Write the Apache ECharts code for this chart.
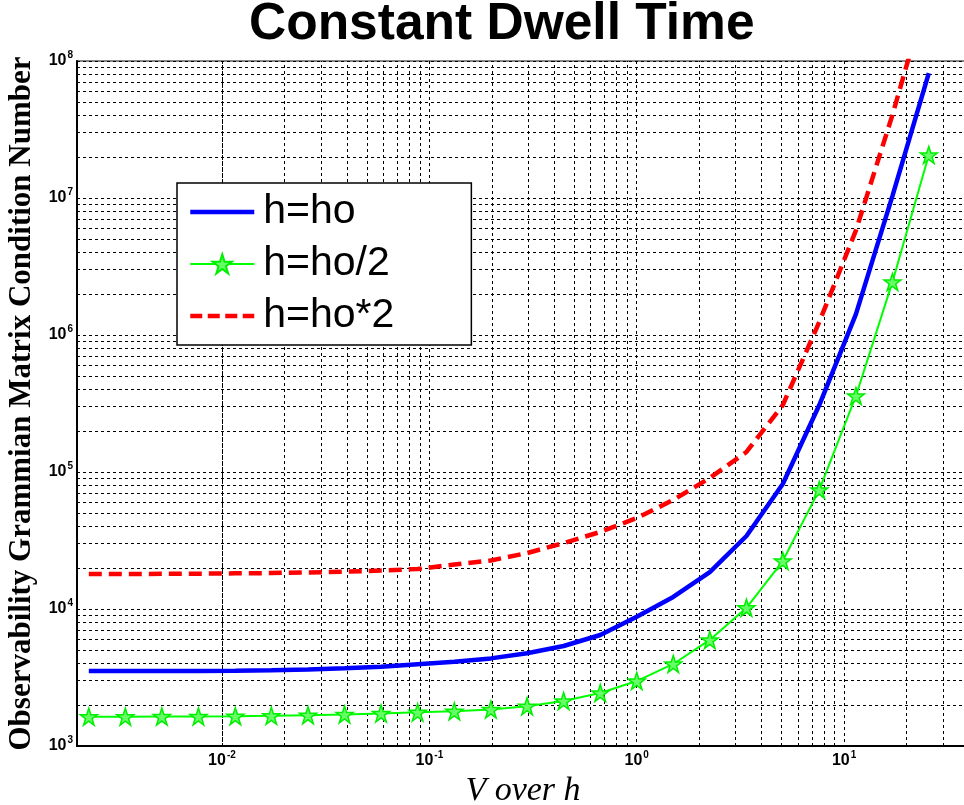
<!DOCTYPE html>
<html><head><meta charset="utf-8">
<script src="https://cdn.jsdelivr.net/npm/echarts@6/dist/echarts.min.js"></script>
<style>html,body{margin:0;padding:0;background:#fff}#c{width:964px;height:805px}</style>
</head><body><div id="c"></div>
<script>
// V over h sample positions
const xValues = [0.00228, 0.00342, 0.00513, 0.0077, 0.0116, 0.0173, 0.026, 0.039, 0.0585, 0.0878,
  0.132, 0.198, 0.296, 0.444, 0.667, 1.0, 1.5, 2.25, 3.38, 5.06, 7.59, 11.4, 17.1, 25.6];
// h = ho (blue solid)
const hHo = [3520, 3520, 3525, 3530, 3545, 3565, 3610, 3690, 3790, 3950,
  4120, 4360, 4750, 5370, 6460, 8790, 12250, 18600, 34100, 81700, 308000, 1420000, 10350000, 81700000];
// h = ho/2 (green with stars)
const hHoHalf = [1637, 1637, 1640, 1645, 1650, 1660, 1680, 1700, 1730, 1760,
  1790, 1850, 1950, 2130, 2440, 2980, 3970, 5950, 10200, 22400, 74000, 359000, 2440000, 20600000];
// h = ho*2 (red dashed)
const hHoDouble = [18000, 18000, 18050, 18100, 18200, 18300, 18500, 18700, 19100, 19600,
  21100, 22600, 25600, 30300, 36500, 46100, 62500, 90400, 140000, 308000, 1245000, 5800000, 40400000, 340000000];

const seriesNames = ['h=ho', 'h=ho/2', 'h=ho*2'];
const xDecades = [0.001, 0.01, 0.1, 1, 10];
const yDecades = [1000, 10000, 100000, 1000000, 10000000];
const minorMultipliers = [2, 3, 4, 5, 6, 7, 8, 9];

const X_MIN = 0.002, X_MAX = 40, Y_MIN = 1000, Y_MAX = 100000000;

const xMinor = [];
xDecades.forEach(d => minorMultipliers.forEach(m => { const v = +(d * m).toPrecision(3); if (v > X_MIN && v < X_MAX) xMinor.push(v); }));
const yMinor = [];
yDecades.forEach(d => minorMultipliers.forEach(m => { const v = d * m; if (v > Y_MIN && v < Y_MAX) yMinor.push(v); }));

function pts(ys) { return xValues.map((x, i) => [x, ys[i]]); }

function powLabel(v) {
  const e = Math.round(Math.log10(v));
  const p = Math.pow(10, e);
  if (Math.abs(v - p) > 1e-6 * p) return '';
  return '{b|10}{s|' + e + '}';
}
const labelRich = {
  b: { fontFamily: 'Liberation Sans, Arial', fontWeight: 'bold', fontSize: 16, color: '#000', lineHeight: 16, verticalAlign: 'bottom' },
  s: { fontFamily: 'Liberation Sans, Arial', fontWeight: 'bold', fontSize: 10, color: '#000', lineHeight: 10, padding: [0, 0, 9, 1], verticalAlign: 'bottom' }
};

const STAR = 'path://M50,2 L61.8,37.6 L99,37.6 L68.9,59.5 L80.4,95 L50,73 L19.6,95 L31.1,59.5 L1,37.6 L38.2,37.6 Z';
const gridLineStyle = { color: '#000', type: [3, 3], width: 1 };

const chart = echarts.init(document.getElementById('c'), null, { renderer: 'canvas' });
chart.setOption({
  animation: false,
  backgroundColor: '#fff',
  title: {
    text: 'Constant Dwell Time', left: 249, top: -1, padding: 0,
    textStyle: { fontFamily: 'Liberation Sans, Arial', fontWeight: 'bold', fontSize: 51.5, color: '#000' }
  },
  grid: {
    left: 77, top: 61, right: -5, bottom: 59, show: true, borderColor: '#888', borderWidth: 2,
    backgroundColor: '#fff', containLabel: false, outerBoundsMode: 'none'
  },
  legend: {
    orient: 'vertical', left: 177, top: 183,
    data: [
      { name: seriesNames[0], itemStyle: { opacity: 0 }, lineStyle: { width: 4.5 } },
      { name: seriesNames[1], lineStyle: { width: 2 } },
      { name: seriesNames[2], itemStyle: { opacity: 0 }, lineStyle: { width: 4.5, type: [12, 5.5] } }
    ],
    backgroundColor: '#fff', borderColor: '#000', borderWidth: 1.5,
    padding: [6, 77, 6, 11],
    itemWidth: 64, itemHeight: 24, itemGap: 6,
    selectedMode: false,
    textStyle: { fontFamily: 'Liberation Sans, Arial', fontSize: 41, color: '#000', lineHeight: 46, padding: [0, 0, 0, 4] }
  },
  xAxis: {
    type: 'log', logBase: 10, min: X_MIN, max: X_MAX,
    axisLine: { show: true, onZero: false, lineStyle: { color: '#000', width: 2 } },
    axisTick: { show: false },
    splitLine: { show: true, lineStyle: gridLineStyle },
    axisLabel: { formatter: powLabel, rich: labelRich, showMinLabel: false, showMaxLabel: false, margin: 7 },
    name: 'V over h', nameLocation: 'middle', nameGap: 23,
    nameTextStyle: { fontFamily: 'Liberation Serif, Times New Roman', fontStyle: 'italic', fontSize: 34, color: '#000' }
  },
  yAxis: {
    type: 'log', logBase: 10, min: Y_MIN, max: Y_MAX,
    axisLine: { show: true, onZero: false, lineStyle: { color: '#000', width: 2 } },
    axisTick: { show: false },
    splitLine: { show: true, lineStyle: gridLineStyle },
    axisLabel: { formatter: powLabel, rich: labelRich, margin: 4 },
    name: 'Observability Grammian Matrix Condition Number', nameLocation: 'middle', nameGap: 39,
    nameTextStyle: { fontFamily: 'Liberation Serif, Times New Roman', fontWeight: 'bold', fontSize: 31, color: '#000' }
  },
  series: [
    {
      name: 'grid', type: 'line', data: [], silent: true,
      markLine: {
        silent: true, symbol: 'none', z: 1, animation: false,
        label: { show: false }, lineStyle: gridLineStyle, emphasis: { disabled: true },
        data: xMinor.map(v => ({ xAxis: v })).concat(yMinor.map(v => ({ yAxis: v })))
      }
    },
    {
      name: seriesNames[0], type: 'line', data: pts(hHo), symbol: 'none', z: 3,
      lineStyle: { color: '#0000ff', width: 4.5 }, itemStyle: { color: '#0000ff' }
    },
    {
      name: seriesNames[1], type: 'line', data: pts(hHoHalf), symbol: STAR, symbolSize: 17, showAllSymbol: true, z: 3,
      lineStyle: { color: '#00ff00', width: 2 }, itemStyle: { color: '#66ff66', borderColor: '#00ee00', borderWidth: 1.5 }
    },
    {
      name: seriesNames[2], type: 'line', data: pts(hHoDouble), symbol: 'none', z: 3,
      lineStyle: { color: '#ff0000', width: 4.5, type: [13, 7] }, itemStyle: { color: '#ff0000' }
    }
  ]
});
</script>
</body></html>
